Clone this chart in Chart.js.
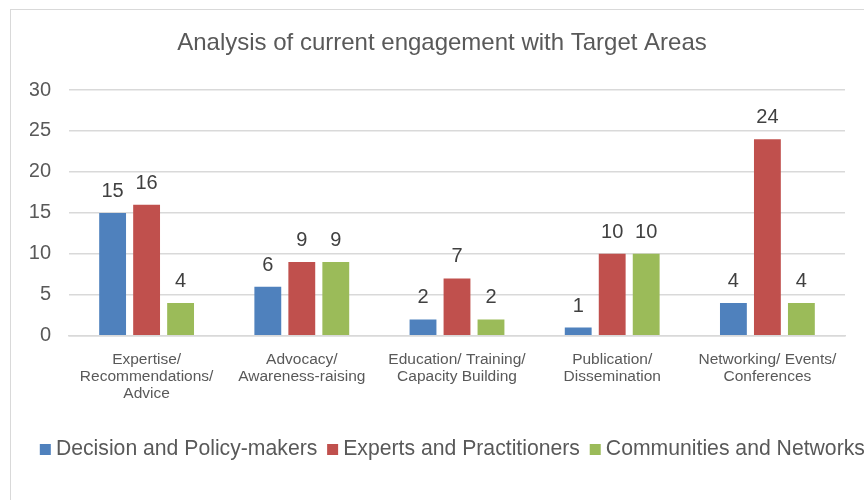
<!DOCTYPE html>
<html><head><meta charset="utf-8">
<script src="https://cdn.jsdelivr.net/npm/chart.js@4/dist/chart.umd.min.js"></script>
<style>
html,body{margin:0;padding:0;background:#fff;overflow:hidden;width:864px;height:500px;}
#frame{position:absolute;left:10px;top:9px;width:900px;height:520px;border:1px solid #d9d9d9;box-sizing:border-box;}
#wrap{position:absolute;left:11px;top:10px;width:862px;height:490px;}
</style></head><body>
<div id="frame"></div>
<div id="wrap"><canvas id="c" width="862" height="490"></canvas></div>
<script>
const categories = [
  ["Expertise/", "Recommendations/", "Advice"],
  ["Advocacy/", "Awareness-raising"],
  ["Education/ Training/", "Capacity Building"],
  ["Publication/", "Dissemination"],
  ["Networking/ Events/", "Conferences"]
];
const seriesNames = ["Decision and Policy-makers", "Experts and Practitioners", "Communities and Networks"];
const decisionMakers = [15, 6, 2, 1, 4];
const experts = [16, 9, 7, 10, 24];
const communities = [4, 9, 2, 10, 4];
const yTicks = [0, 5, 10, 15, 20, 25, 30];
const titleText = "Analysis of current engagement with Target Areas";

const FONT = '"Liberation Sans", Arial, sans-serif';
Chart.defaults.font.family = FONT;

const valueLabels = {
  id: 'valueLabels',
  afterDatasetsDraw(chart) {
    const ctx = chart.ctx;
    ctx.save();
    ctx.font = '20px ' + FONT;
    ctx.fillStyle = '#404040';
    ctx.textAlign = 'center';
    ctx.textBaseline = 'alphabetic';
    chart.data.datasets.forEach((ds, i) => {
      chart.getDatasetMeta(i).data.forEach((bar, j) => {
        ctx.fillText(String(ds.data[j]), bar.x, bar.y - 16);
      });
    });
    ctx.restore();
  }
};

// keep the legend on one row, running past the visible right edge as in the reference
const WIDE = 900;
const wideLegend = {
  id: 'wideLegend',
  beforeLayout(chart) {
    const lg = chart.legend;
    if (!lg || lg._wideFit) return;
    const origFit = lg.fit;
    lg.fit = function () {
      const mw = this.maxWidth;
      this.maxWidth = WIDE;
      origFit.call(this);
      this.maxWidth = mw;
      this.width = mw;
    };
    lg._wideFit = true;
  },
  afterLayout(chart) {
    const lg = chart.legend;
    if (lg) lg.right = lg.left + WIDE;
  }
};

new Chart(document.getElementById('c'), {
  type: 'bar',
  data: {
    labels: categories,
    datasets: [
      { label: seriesNames[0], data: decisionMakers, backgroundColor: '#4f81bd', borderWidth: 0 },
      { label: seriesNames[1], data: experts, backgroundColor: '#c0504d', borderWidth: 0 },
      { label: seriesNames[2], data: communities, backgroundColor: '#9bbb59', borderWidth: 0 }
    ]
  },
  options: {
    responsive: false,
    animation: false,
    devicePixelRatio: 1,
    categoryPercentage: 0.657,
    barPercentage: 0.79,
    layout: { padding: { left: 19, right: 19, top: 0, bottom: 30 } },
    plugins: {
      title: {
        display: true, text: titleText, color: '#595959',
        font: { size: 24, weight: 'normal', lineHeight: 1.2 },
        padding: { top: 18.6, bottom: 32.6 }
      },
      legend: {
        position: 'bottom', align: 'start',
        labels: {
          usePointStyle: true, pointStyle: 'rect',
          boxWidth: 0.01, boxHeight: 11,
          color: '#595959', font: { size: 21.2 }, padding: 15.3
        }
      },
      tooltip: { enabled: false }
    },
    scales: {
      x: {
        grid: { display: false },
        border: { display: true, color: '#d9d9d9', width: 1.5 },
        ticks: { color: '#595959', font: { size: 15.5, lineHeight: 1.1 }, padding: 7.5, maxRotation: 0, autoSkip: false },
        afterFit: s => { s.height = 87.7; }
      },
      y: {
        min: 0, max: 30,
        afterBuildTicks: s => { s.ticks = yTicks.map(v => ({ value: v })); },
        ticks: { color: '#595959', font: { size: 20 }, padding: 18 },
        grid: { color: '#d9d9d9', lineWidth: 1.5, drawTicks: false },
        border: { display: false },
        afterFit: s => { s.width = 39; }
      },
      spacer: {
        position: 'right', display: true,
        grid: { display: false, drawOnChartArea: false, drawTicks: false },
        ticks: { display: false },
        border: { display: false },
        afterFit: s => { s.width = 9; }
      }
    }
  },
  plugins: [valueLabels, wideLegend]
});
</script>
</body></html>
